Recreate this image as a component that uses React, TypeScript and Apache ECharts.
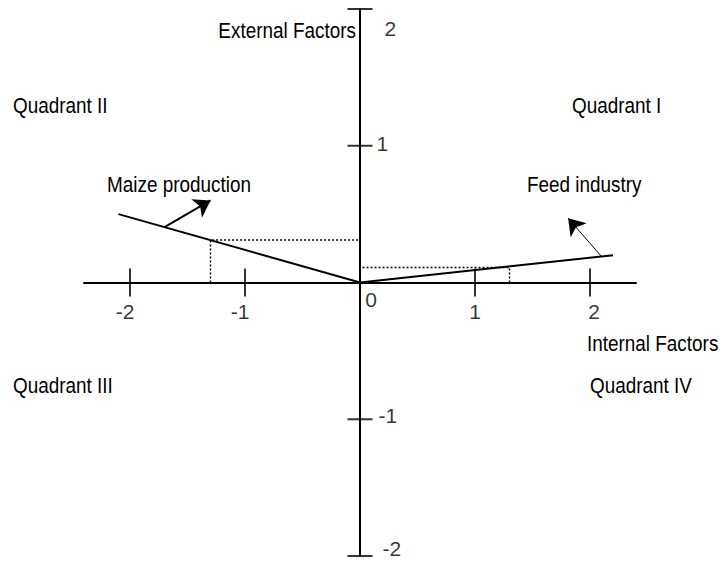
import React, { useEffect, useRef } from "react";
import * as echarts from "echarts";

// ---- data ----
const xTickValues = [-2, -1, 1, 2];
const xTickLabels = ["-2", "-1", "1", "2"];
const yTickValues = [-2, -1, 1, 2];
const yTickLabels = ["-2", "-1", "1", "2"];
const originLabel = "0";

const maizeLine = [[0, 0], [-2.1, 0.5]];
const feedLine = [[0, 0], [2.2, 0.2]];
const maizeArrow = [[-1.7, 0.405], [-1.3, 0.6]];
const feedArrow = [[2.1, 0.19], [1.81, 0.47]];
const maizeGuide = [-1.3, 0.31];
const feedGuide = [1.3, 0.11];

const quadrantLabels = ["Quadrant I", "Quadrant II", "Quadrant III", "Quadrant IV"];
const seriesNames = ["Maize production", "Feed industry"];
const axisTitles = ["Internal Factors", "External Factors"];

const FONT = '"Liberation Sans", Arial, sans-serif';
const FS = 22;
const SX = 0.86;

export default function App() {
  const ref = useRef<HTMLDivElement>(null);
  useEffect(() => {
    if (!ref.current) return;
    const chart = echarts.init(ref.current, null, { renderer: "svg" });
    const black = "#000";
    const textStyle = { color: black, fontFamily: FONT, fontSize: 21 };

    const xLabelOffset: Record<string, number[]> = {
      "-2": [-5, 0],
      "-1": [-5, 0],
      "1": [0, 0],
      "2": [4, 0],
    };
    const yLabelOffset: Record<string, number[]> = {
      "2": [8, 19],
      "1": [0, -2],
      "-1": [2, -4],
      "-2": [6, -8],
    };

    const guideData = (g: number[]) => [[g[0], 0], [g[0], g[1]], [0, g[1]]];

    const txt = (text: string, x: number, y: number, align = "left") => ({
      type: "text",
      x,
      y,
      scaleX: SX,
      style: {
        text,
        x: 0,
        y: 0,
        fill: black,
        font: `${FS}px ${FONT}`,
        textAlign: align,
        textVerticalAlign: "middle",
        align,
        verticalAlign: "middle",
      },
      z: 10,
    });

    chart.setOption({
      animation: false,
      backgroundColor: "#fff",
      grid: { left: 84, right: 89, top: 9, bottom: 6, containLabel: false },
      xAxis: {
        type: "value",
        min: -2.4,
        max: 2.4,
        axisLine: { show: true, onZero: true, lineStyle: { color: black, width: 2 } },
        axisTick: { show: false },
        axisLabel: { show: false },
        splitLine: { show: false },
      },
      yAxis: {
        type: "value",
        min: -2,
        max: 2,
        axisLine: { show: true, onZero: true, lineStyle: { color: black, width: 2 } },
        axisTick: { show: false },
        axisLabel: { show: false },
        splitLine: { show: false },
      },
      series: [
        {
          type: "line",
          data: maizeLine,
          symbol: "none",
          lineStyle: { color: black, width: 2 },
          z: 5,
        },
        {
          type: "line",
          data: feedLine,
          symbol: "none",
          lineStyle: { color: black, width: 2 },
          z: 5,
        },
        {
          type: "line",
          data: guideData(maizeGuide),
          symbol: "none",
          lineStyle: { color: black, width: 1.5, type: [2, 2] },
          z: 4,
        },
        {
          type: "line",
          data: guideData(feedGuide),
          symbol: "none",
          lineStyle: { color: black, width: 1.5, type: [2, 2] },
          z: 4,
        },
        {
          type: "lines",
          coordinateSystem: "cartesian2d",
          symbol: ["none", "arrow"],
          symbolSize: 16,
          data: [{ coords: maizeArrow }],
          lineStyle: { color: black, width: 2, curveness: 0, opacity: 1 },
          z: 6,
        },
        {
          type: "lines",
          coordinateSystem: "cartesian2d",
          symbol: ["none", "arrow"],
          symbolSize: 16,
          data: [{ coords: feedArrow }],
          lineStyle: { color: black, width: 1, curveness: 0, opacity: 1 },
          z: 6,
        },
        {
          type: "scatter",
          symbol: "rect",
          symbolSize: [2, 28],
          itemStyle: { color: black },
          data: xTickValues.map((v, i) => ({
            value: [v, 0],
            label: { formatter: xTickLabels[i], offset: xLabelOffset[xTickLabels[i]] },
          })),
          label: { show: true, position: "bottom", distance: 4, ...textStyle },
          z: 7,
        },
        {
          type: "scatter",
          symbol: "rect",
          symbolSize: [25, 2],
          itemStyle: { color: black },
          data: yTickValues.map((v, i) => ({
            value: [0, v],
            label: { formatter: yTickLabels[i], offset: yLabelOffset[yTickLabels[i]] },
          })),
          label: { show: true, position: "right", distance: 4, ...textStyle },
          z: 7,
        },
        {
          type: "scatter",
          symbolSize: 0,
          data: [{ value: [0, 0], label: { formatter: originLabel } }],
          label: { show: true, position: "inside", offset: [11, 17], ...textStyle },
          z: 7,
        },
      ],
      graphic: [
        txt(quadrantLabels[0], 572, 105),
        txt(quadrantLabels[1], 13, 105),
        txt(quadrantLabels[2], 13, 385),
        txt(quadrantLabels[3], 590, 385),
        txt(seriesNames[0], 107, 184),
        txt(seriesNames[1], 527, 184),
        txt(axisTitles[0], 587, 343),
        txt(axisTitles[1], 356, 30, "right"),
      ],
    });
    return () => chart.dispose();
  }, []);
  return <div ref={ref} style={{ width: 725, height: 562, position: "absolute", left: 0, top: 0 }} />;
}
